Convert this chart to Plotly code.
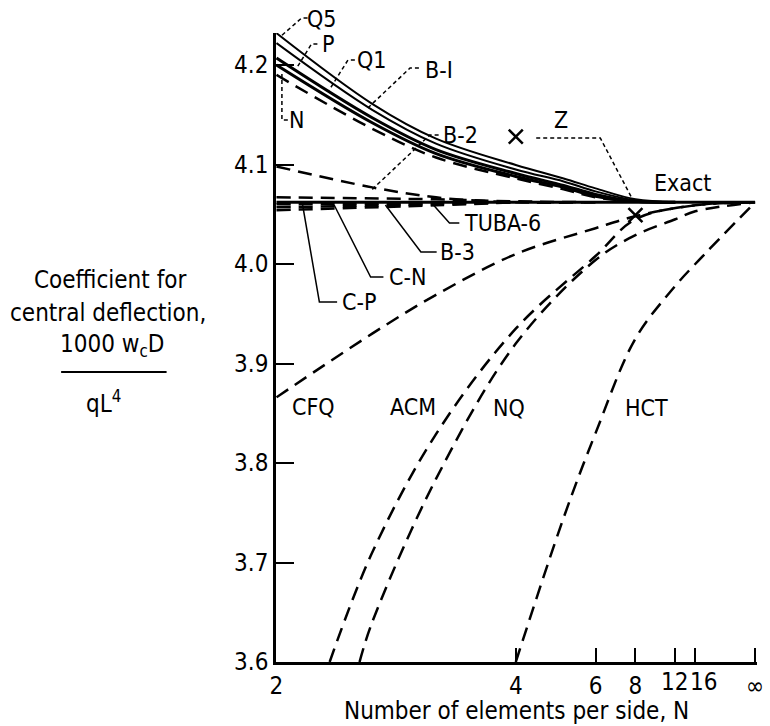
import plotly.graph_objects as go

# ---------------- data ----------------
exact_N = [2, 1e9]
exact_val = [4.062, 4.062]

q5_N = [2, 2.5, 3, 4, 5, 6, 8, 12]
q5_val = [4.232, 4.161, 4.126, 4.0995, 4.086, 4.076, 4.065, 4.062]
p_N = [2, 2.5, 3, 4, 5, 6, 8, 12]
p_val = [4.222, 4.155, 4.121, 4.095, 4.083, 4.073, 4.064, 4.062]
q1_N = [2, 2.5, 3, 4, 5, 6, 8, 12]
q1_val = [4.207, 4.147, 4.115, 4.091, 4.079, 4.070, 4.063, 4.062]
n_N = [2, 2.5, 3, 4, 5, 6, 8, 12]
n_val = [4.200, 4.142, 4.111, 4.088, 4.077, 4.068, 4.063, 4.062]
b1_N = [2, 2.5, 3, 4, 5, 6, 8]
b1_val = [4.190, 4.136, 4.107, 4.086, 4.075, 4.067, 4.063]
b2_N = [2, 2.5, 3, 4, 6]
b2_val = [4.098, 4.077, 4.067, 4.062, 4.062]
tuba6_N = [2, 3, 4, 6]
tuba6_val = [4.067, 4.065, 4.063, 4.062]
b3_N = [2, 3, 4]
b3_val = [4.060, 4.061, 4.062]
cn_N = [2, 3, 4]
cn_val = [4.057, 4.060, 4.062]
cp_N = [2, 3, 4]
cp_val = [4.054, 4.059, 4.062]
cfq_N = [2, 2.5, 3, 4, 6, 8, 16, 1e9]
cfq_val = [3.866, 3.930, 3.969, 4.010, 4.036, 4.048, 4.059, 4.062]
acm_N = [2.25, 2.5, 3, 4, 6, 8, 16, 1e9]
acm_val = [3.600, 3.710, 3.829, 3.935, 4.008, 4.045, 4.059, 4.062]
nq_N = [2.42, 2.5, 3, 4, 6, 8, 12, 16, 1e9]
nq_val = [3.600, 3.640, 3.784, 3.920, 4.004, 4.029, 4.045, 4.053, 4.062]
hct_N = [4, 5, 6, 8, 12, 16, 1e9]
hct_val = [3.600, 3.745, 3.830, 3.925, 3.978, 4.000, 4.062]
z_N = [4, 8]
z_val = [4.128, 4.049]

tick_N = [2, 4, 6, 8, 12, 16, 1e9]
tick_text = ["2", "4", "6", "8", "12", "16", "\u221e"]
y_ticks = [3.6, 3.7, 3.8, 3.9, 4.0, 4.1, 4.2]

# ---------------- figure ----------------
FONT = "DejaVu Sans Condensed, Liberation Sans Narrow, DejaVu Sans, sans-serif"
FS = 24
LFS = 23
BLACK = "#000000"
DASH = "14px,8px"

W, H = 770, 726
L, R, T, B = 276, 6, 33, 64


def inv(ns):
    return [1.0 / n for n in ns]


fig = go.Figure()


def curve(ns, vals, width=2.0, dash="solid", shape="spline"):
    fig.add_trace(go.Scatter(
        x=inv(ns), y=vals, mode="lines",
        line=dict(color=BLACK, width=width, dash=dash, shape=shape, smoothing=1.0),
        showlegend=False, hoverinfo="skip"))


curve(exact_N, exact_val, width=3, shape="linear")
curve(q5_N, q5_val, width=2)
curve(p_N, p_val, width=2)
curve(q1_N, q1_val, width=3)
curve(n_N, n_val, width=3)
curve(b1_N, b1_val, width=2.5, dash=DASH)
curve(b2_N, b2_val, width=2.5, dash=DASH)
curve(tuba6_N, tuba6_val, width=2.5, dash=DASH)
curve(b3_N, b3_val, width=2.5, dash=DASH)
curve(cn_N, cn_val, width=2.5, dash=DASH)
curve(cp_N, cp_val, width=2.5, dash=DASH)
curve(cfq_N, cfq_val, width=2.5, dash=DASH)
curve(acm_N, acm_val, width=2.5, dash=DASH)
curve(nq_N, nq_val, width=2.5, dash=DASH)
curve(hct_N, hct_val, width=2.5, dash=DASH)

fig.add_trace(go.Scatter(
    x=inv(z_N), y=z_val, mode="markers",
    marker=dict(symbol="x-thin", size=14, line=dict(color=BLACK, width=2.5)),
    showlegend=False, hoverinfo="skip"))


# pixel -> paper helpers for labels / leaders
def px(x):
    return (x - L) / (W - L - R)


def py(y):
    return (H - B - y) / (H - T - B)


def label(text, x, y, size=LFS, xanchor="center", pad=1):
    fig.add_annotation(text=text, x=px(x), y=py(y), xref="paper", yref="paper",
                       showarrow=False, xanchor=xanchor, yanchor="middle",
                       borderpad=pad,
                       font=dict(family=FONT, size=size, color=BLACK))


def leader(points, dash="solid", width=1.5):
    d = "M " + " L ".join(f"{px(a)},{py(b)}" for a, b in points)
    fig.add_shape(type="path", path=d, xref="paper", yref="paper",
                  line=dict(color=BLACK, width=width, dash=dash))


# curve labels
label("Q5", 322, 19)
leader([(308, 18), (302, 18), (280, 37)], dash="4px,3px")
label("P", 329, 44)
leader([(318, 44), (312, 44), (297, 68)], dash="4px,3px")
label("Q1", 373, 60)
leader([(356, 60), (349, 60), (330, 90)], dash="4px,3px")
label("B-I", 441, 70)
leader([(421, 68), (412, 68), (367, 110)], dash="4px,3px")
label("N", 297, 120)
leader([(288, 120), (282, 120), (282, 74)], dash="4px,3px")
label("B-2", 463, 135)
leader([(441, 135), (432, 135), (373, 190)], dash="4px,3px")
label("Z", 565, 120)
leader([(540, 138), (605, 138), (637, 198)], dash="4px,3px")
label("Exact", 657, 183, xanchor="left")
label("TUBA-6", 506, 223)
leader([(462, 223), (452, 223), (433, 202)])
label("B-3", 460, 252)
leader([(439, 252), (423, 252), (387, 205)])
label("C-N", 409, 277)
leader([(385, 277), (372, 277), (335, 205)])
label("C-P", 360, 302)
leader([(338, 302), (320, 302), (303, 205)])
label("CFQ", 314, 407)
label("ACM", 415, 407)
label("NQ", 512, 408)
label("HCT", 628, 408, xanchor="left")

# y-axis title (stacked text with fraction)
label("Coefficient for", 108, 280, size=FS)
label("central deflection,", 106, 313, size=FS)
label("1000 w<sub>c</sub>D", 110, 345, size=FS)
fig.add_shape(type="line", xref="paper", yref="paper",
              x0=px(58), x1=px(165), y0=py(372), y1=py(372),
              line=dict(color=BLACK, width=2))
label("qL<sup>4</sup>", 101, 402, size=FS)

# x-axis title
label("Number of elements per side, N", 520, 711, size=FS, pad=0)

# the crowded "12" and "16" tick labels are nudged apart as in the reference
axis_labels = []
for n, t in zip(tick_N, tick_text):
    axis_labels.append(t if n not in (12, 16) else "")
label(tick_text[4], 680, 682, size=FS, pad=0)
label(tick_text[5], 710, 682, size=FS, pad=0)

fig.update_layout(
    width=W, height=H,
    margin=dict(l=L, r=R, t=T, b=B),
    paper_bgcolor="white", plot_bgcolor="white",
    font=dict(family=FONT, size=FS, color=BLACK),
    xaxis=dict(
        range=[0.5005, -0.0020],
        tickvals=inv(tick_N), ticktext=axis_labels, tickangle=0,
        ticks="inside", ticklen=14, tickwidth=2, tickcolor=BLACK,
        showline=True, linecolor=BLACK, linewidth=2.5,
        showgrid=False, zeroline=False, ticklabeloverflow="allow",
        tickfont=dict(family=FONT, size=FS, color=BLACK),
    ),
    yaxis=dict(
        range=[3.6, 3.6 + (H - T - B) / 995.0],
        tickvals=y_ticks, tickformat=".1f",
        ticks="inside", ticklen=18, tickwidth=2, tickcolor=BLACK,
        showline=True, linecolor=BLACK, linewidth=2.5,
        showgrid=False, zeroline=False,
        tickfont=dict(family=FONT, size=FS, color=BLACK),
    ),
)

fig.write_html("out.html", config={"displayModeBar": False},
               post_script="document.body.style.margin='0';document.body.style.overflow='hidden';")
